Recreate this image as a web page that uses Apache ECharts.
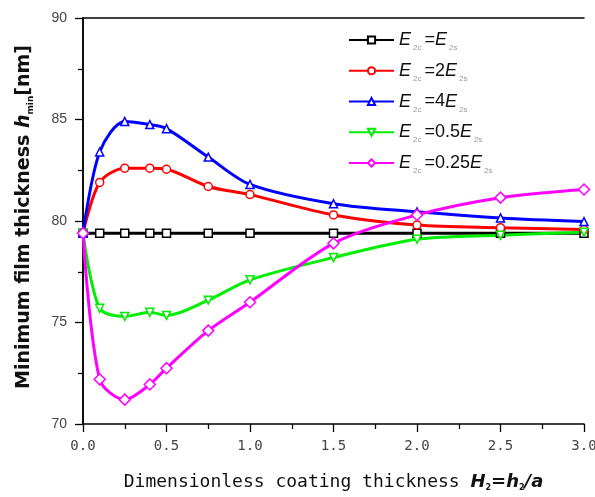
<!DOCTYPE html>
<html><head><meta charset="utf-8">
<script src="https://cdn.jsdelivr.net/npm/echarts@6/dist/echarts.min.js"></script>
<style>html,body{margin:0;padding:0;background:#fff}#c{width:595px;height:497px}</style>
</head><body><div id="c"></div>
<script>
const xValues = [0, 0.1, 0.25, 0.4, 0.5, 0.75, 1.0, 1.5, 2.0, 2.5, 3.0];
const eq1 = [79.4, 79.4, 79.4, 79.4, 79.4, 79.4, 79.4, 79.4, 79.4, 79.4, 79.4];
const eq2 = [79.4, 81.9, 82.6, 82.6, 82.55, 81.7, 81.3, 80.3, 79.8, 79.67, 79.58];
const eq4 = [79.4, 83.4, 84.9, 84.75, 84.55, 83.15, 81.8, 80.85, 80.45, 80.15, 79.97];
const eq05 = [79.4, 75.7, 75.3, 75.5, 75.35, 76.1, 77.1, 78.2, 79.1, 79.3, 79.45];
const eq025 = [79.4, 72.2, 71.2, 71.95, 72.75, 74.6, 76.0, 78.9, 80.3, 81.15, 81.55];
const seriesNames = ['k1', 'k2', 'k4', 'k05', 'k025'];
const factorLabels = {k1: '', k2: '2', k4: '4', k05: '0.5', k025: '0.25'};
const xTicks = ['0.0', '0.5', '1.0', '1.5', '2.0', '2.5', '3.0'];

const pairs = v => xValues.map((x, i) => [x, v[i]]);
const chart = echarts.init(document.getElementById('c'));
const mk = (name, data, color, symbol, rot) => ({
  name, type: 'line', data: pairs(data), smooth: 0.3,
  symbol, symbolSize: symbol === 'diamond' ? 11 : 8, symbolRotate: rot || 0,
  showAllSymbol: true,
  lineStyle: {color, width: 3},
  itemStyle: {color: '#fff', borderColor: color, borderWidth: 1.5},
  z: 2
});
chart.setOption({
  animation: false,
  grid: {left: 83, right: 11, top: 18, bottom: 73, containLabel: false, outerBoundsMode: 'none'},
  legend: {
    orient: 'vertical', left: 348, top: 31, padding: 0, itemWidth: 45, itemHeight: 9, itemGap: 9.75,
    data: seriesNames,
    formatter: n => '{e|E}{s|2c}{n|=' + factorLabels[n] + '}{e|E}{s|2s}',
    textStyle: {
      rich: {
        e: {fontFamily: 'Liberation Sans', fontStyle: 'italic', fontSize: 18, color: '#111'},
        n: {fontFamily: 'Liberation Sans', fontSize: 18, color: '#111'},
        s: {fontFamily: 'Liberation Sans', fontSize: 8, color: '#999', padding: [16, 3, 0, 2]}
      }
    }
  },
  xAxis: [{
    type: 'value', min: 0, max: 3, interval: 0.5,
    axisLine: {lineStyle: {color: '#000', width: 1.5}},
    axisTick: {inside: false, length: 8, lineStyle: {color: '#000', width: 1.3}},
    minorTick: {show: true, splitNumber: 2, length: 5, lineStyle: {color: '#000', width: 1.3}},
    splitLine: {show: false},
    axisLabel: {formatter: v => xTicks[Math.round(v * 2)], color: '#444', fontSize: 14, fontFamily: 'DejaVu Sans Mono', margin: 15},
    name: 'Dimensionless coating thickness {b|H}{bs|2}{b|=h}{bs|2}{b|/a}',
    nameLocation: 'middle', nameGap: 49,
    nameTextStyle: {
      fontFamily: 'DejaVu Sans Mono', fontSize: 18, color: '#111',
      rich: {
        b: {fontFamily: 'DejaVu Sans', fontSize: 18, fontWeight: 'bold', fontStyle: 'italic', color: '#111'},
        bs: {fontFamily: 'DejaVu Sans', fontSize: 8, fontWeight: 'bold', color: '#111', padding: [11, 0, 0, 0]}
      }
    }
  }, {
    type: 'value', min: 0, max: 3, position: 'top',
    axisLine: {show: true, lineStyle: {color: '#000', width: 1.5}},
    axisTick: {show: false}, axisLabel: {show: false}, splitLine: {show: false}
  }],
  yAxis: [{
    type: 'value', min: 70, max: 90, interval: 5,
    axisLine: {show: true, lineStyle: {color: '#000', width: 1.5}},
    axisTick: {show: true, inside: false, length: 8, lineStyle: {color: '#000', width: 1.3}},
    minorTick: {show: true, splitNumber: 2, length: 5, lineStyle: {color: '#000', width: 1.3}},
    splitLine: {show: false},
    axisLabel: {color: '#444', fontSize: 14, fontFamily: 'Liberation Sans', margin: 16},
    name: 'Minimum film thickness {b|h}{bs|min}{t|[nm]}',
    nameLocation: 'middle', nameGap: 48,
    nameTextStyle: {
      fontFamily: 'DejaVu Sans', fontSize: 19, fontWeight: 'bold', color: '#111',
      padding: [0, 0, 0, 8],
      rich: {
        b: {fontFamily: 'DejaVu Sans', fontSize: 19, fontWeight: 'bold', fontStyle: 'italic', color: '#111'},
        bs: {fontFamily: 'DejaVu Sans', fontSize: 9, fontWeight: 'bold', color: '#111', padding: [12, 0, 0, 0]},
        t: {fontFamily: 'DejaVu Sans', fontSize: 19, fontWeight: 'bold', color: '#111'}
      }
    }
  }, {
    type: 'value', min: 70, max: 90, position: 'right',
    axisLine: {show: true, lineStyle: {color: '#000', width: 1.5}},
    axisTick: {show: false}, axisLabel: {show: false}, splitLine: {show: false}
  }],
  series: [
    mk('k1', eq1, '#000000', 'rect'),
    mk('k2', eq2, '#ff0000', 'circle'),
    mk('k4', eq4, '#0000ff', 'triangle'),
    mk('k05', eq05, '#00ee00', 'triangle', 180),
    mk('k025', eq025, '#ff00ff', 'diamond')
  ]
});
</script></body></html>
